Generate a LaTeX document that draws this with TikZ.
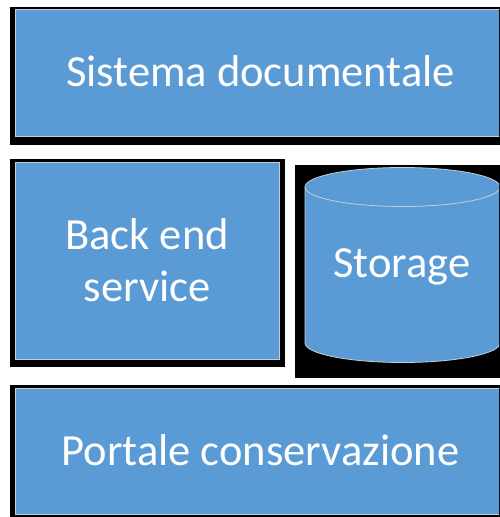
\documentclass[tikz,border=0pt]{standalone}
\usepackage{fontspec}
\setmainfont{Carlito}
\usetikzlibrary{positioning,backgrounds}
\definecolor{boxblue}{RGB}{91,155,213}
\definecolor{rimgray}{RGB}{196,206,216}

\begin{document}
\begin{tikzpicture}[x=1pt,y=1pt,
                    block/.style = {draw=rimgray, line width=0.8pt, fill=boxblue, text=white,
                                    font=\fontsize{44.5}{52}\selectfont, inner sep=0pt},
                    capline/.style = {text height=28.7pt, text depth=0pt},
                    rim/.style = {draw=rimgray, line width=0.8pt}]
\useasboundingbox (0,0) rectangle (499,517);
\clip (0,0) rectangle (499,517);
% the three layers
\node[block, capline, minimum width=491pt, minimum height=127pt] (docsys) at (260.5,444.5) {Sistema documentale};
\node[block, align=center, minimum width=264pt, minimum height=197pt] (backend) at (147,256.5) {Back end\\service};
\node[block, capline, minimum width=491pt, minimum height=126pt] (portal) at (260.5,66) {Portale conservazione};
% storage drum
\filldraw[rim, fill=boxblue] (305,330) -- (305,174)
    arc[start angle=180, end angle=360, x radius=97.5, y radius=19.5] -- (500,330)
    arc[start angle=0, end angle=180, x radius=97.5, y radius=19.5] -- cycle;
\draw[rim] (305,330) arc[start angle=180, end angle=360, x radius=97.5, y radius=19.5];
\node[text=white, font=\fontsize{44.5}{52}\selectfont, anchor=base, inner sep=0pt] (storage) at (402,239) {Storage};
% black shadows behind everything
\begin{scope}[on background layer]
  \fill ([shift={(-5pt,-9pt)}]docsys.south west) rectangle ([shift={(5pt,2pt)}]docsys.north east);
  \fill ([shift={(-5pt,-8pt)}]backend.south west) rectangle ([shift={(6pt,3pt)}]backend.north east);
  \fill ([shift={(-5pt,-3pt)}]portal.south west) rectangle ([shift={(5pt,3pt)}]portal.north east);
  \fill (295,139) rectangle (504,352);
\end{scope}
\end{tikzpicture}
\end{document}
